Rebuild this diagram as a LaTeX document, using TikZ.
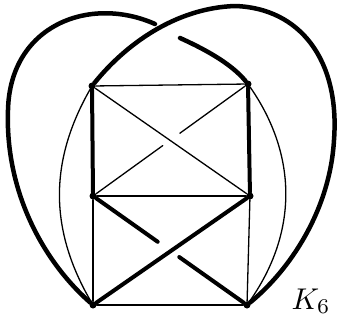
\documentclass[tikz,border=0pt]{standalone}
\usetikzlibrary{calc}
\begin{document}
\begin{tikzpicture}[x=1pt, y=-1pt, line cap=round,
    dot/.style={circle, fill=black, inner sep=0pt, minimum size=7pt},
    thinedge/.style={line width=1.3pt},
    thickedge/.style={line width=4pt},
    heavyedge/.style={line width=4.5pt}]
    \useasboundingbox (0,0) rectangle (340,325);

    % 顶点
    \node[dot] (A) at (92,86) {};
    \node[dot] (B) at (248,84) {};
    \node[dot] (C) at (93,196) {};
    \node[dot] (D) at (250,196) {};
    \node[dot] (E) at (93,305) {};
    \node[dot] (F) at (247,305) {};

    % 横边和竖边
    \draw[thinedge] (A) -- (B);
    \draw[thinedge] (C) -- (D);
    \draw[thinedge, line width=1.8pt] (E) -- (F);
    \draw[thickedge] (A) -- (C);
    \draw[thickedge] (B) -- (D);
    \draw[thinedge] (C) -- (E);
    \draw[thinedge] (D) -- (F);

    % 上面的交叉
    \draw[thinedge] (A) -- (D);
    \draw[thinedge] (B) -- ($(B)!0.44!(C)$);
    \draw[thinedge] ($(B)!0.55!(C)$) -- (C);

    % 下面的交叉
    \draw[thickedge] (D) -- (E);
    \draw[thickedge] (C) -- ($(C)!0.42!(F)$);
    \draw[thickedge] ($(C)!0.56!(F)$) -- (F);

    % 两侧的弧
    \draw[thinedge] (A) to[bend right=30] (E);
    \draw[thinedge] (B) to[bend left=35] (F);

    % 外面的大弧 E-B (被 A-F 压住)
    \coordinate (P1) at (155,24);
    \coordinate (P2) at (180,38);
    \draw[heavyedge] (E) .. controls (42,260) and (5,190) .. (8,110)
        .. controls (10,25) and (90,-5) .. (P1);
    \draw[heavyedge] (P2) .. controls (200,47) and (230,62) .. (B);

    % 外面的大弧 A-F
    \draw[heavyedge] (A) .. controls (125,45) and (175,8) .. (235,6)
        .. controls (300,8) and (340,60) .. (334,140)
        .. controls (330,210) and (290,270) .. (F);

    % 标注
    \node[scale=3] (lbl) at (311,301) {$K_6$};
\end{tikzpicture}
\end{document}
